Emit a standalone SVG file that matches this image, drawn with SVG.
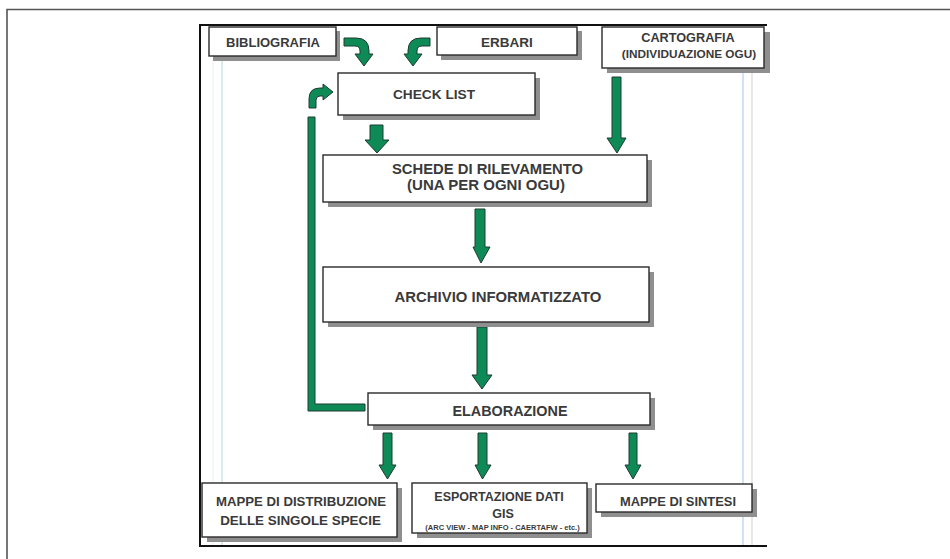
<svg xmlns="http://www.w3.org/2000/svg" width="950" height="559" viewBox="0 0 950 559">
<style>
.box{fill:#ffffff;stroke:#2a2a2a;stroke-width:1.4}
.sh{fill:#8f8f8f}
.t{font-family:"Liberation Sans",Arial,sans-serif;font-weight:bold;fill:#3a3a3a;text-anchor:middle}
.ar{fill:#0e8a57;stroke:#1c3d30;stroke-width:1;stroke-linejoin:miter}
</style>
<rect x="0" y="0" width="950" height="559" fill="#ffffff"/>
<g id="frame">
<path d="M7,559 V9.5 H950" fill="none" stroke="#555" stroke-width="1.6"/>
<path d="M767,25 H200 V546 H767" fill="none" stroke="#111" stroke-width="2"/>
<line x1="213" y1="60" x2="213" y2="545" stroke="#eeeeee" stroke-width="1"/>
<line x1="222" y1="60" x2="222" y2="545" stroke="#c3dcdc" stroke-width="1.2"/>
<line x1="743" y1="72" x2="743" y2="545" stroke="#b5cfee" stroke-width="1.2"/>
<line x1="752" y1="72" x2="752" y2="545" stroke="#d8d8d8" stroke-width="1.2"/>
</g>
<g id="connectors">
<path class="ar" d="M344,38 L356,38 Q369,38 369,51 L369,54 L373,54 L364,66 L355,54 L360,54 L360,51 Q360,46 355,46 L344,46 Z"/>
<path class="ar" d="M430,38 L421,38 Q408,38 408,51 L408,54 L404,54 L413,66 L422,54 L417,54 L417,51 Q417,46 422,46 L430,46 Z"/>
<path class="ar" d="M309,108 L309,99 Q309,88 320,88 L323,88 L323,84 L333,92 L323,100 L323,96 L320,96 Q316,96 316,100 L316,108 Z"/>
<path class="ar" d="M308,117 L315,117 L315,404 L365,404 L365,411 L308,411 Z"/>
<path class="ar" d="M370,125 L383,125 L383,140 L389,140 L377,153 L365,140 L370,140 Z"/>
<path class="ar" d="M612,77 L621,77 L621,138 L626,138 L617,153 L607,138 L612,138 Z"/>
<path class="ar" d="M475,209 L485,209 L485,247 L490,247 L481,263 L473,247 L475,247 Z"/>
<path class="ar" d="M477,327 L487,327 L487,375 L492,375 L482,389 L472,375 L477,375 Z"/>
<path class="ar" d="M383,433 L392,433 L392,465 L396,465 L387.5,479 L379,465 L383,465 Z"/>
<path class="ar" d="M478,433 L487,433 L487,465 L491,465 L482.5,479 L475,465 L478,465 Z"/>
<path class="ar" d="M629,433 L637,433 L637,465 L641,465 L633,479 L625,465 L629,465 Z"/>
</g>
<g id="bibliografia">
<rect class="sh" x="213" y="31" width="127" height="30"/>
<rect class="box" x="209" y="27" width="127" height="29"/>
<text class="t" x="273" y="46.5" font-size="13">BIBLIOGRAFIA</text>
</g>
<g id="erbari">
<rect class="sh" x="441" y="31" width="141" height="29"/>
<rect class="box" x="437" y="27" width="140" height="28"/>
<text class="t" x="507" y="46.5" font-size="13.5">ERBARI</text>
</g>
<g id="cartografia">
<rect class="sh" x="607" y="32" width="163" height="41"/>
<rect class="box" x="602" y="27" width="162" height="41"/>
<text class="t" x="688" y="41.5" font-size="12.7">CARTOGRAFIA</text>
<text class="t" x="689" y="58" font-size="11.8">(INDIVIDUAZIONE OGU)</text>
</g>
<g id="checklist">
<rect class="sh" x="343" y="78" width="197" height="42"/>
<rect class="box" x="338" y="73" width="197" height="42"/>
<text class="t" x="434" y="98.5" font-size="13.7">CHECK LIST</text>
</g>
<g id="schede">
<rect class="sh" x="328" y="160" width="324" height="47"/>
<rect class="box" x="323" y="155" width="324" height="47"/>
<text class="t" x="487.5" y="174" font-size="14.8">SCHEDE DI RILEVAMENTO</text>
<text class="t" x="486" y="189.5" font-size="15">(UNA PER OGNI OGU)</text>
</g>
<g id="archivio">
<rect class="sh" x="328" y="272" width="326" height="55"/>
<rect class="box" x="323" y="267" width="326" height="55"/>
<text class="t" x="498" y="301.5" font-size="14.9">ARCHIVIO INFORMATIZZATO</text>
</g>
<g id="elaborazione">
<rect class="sh" x="373" y="398" width="282" height="32"/>
<rect class="box" x="368" y="393" width="282" height="32"/>
<text class="t" x="510" y="416" font-size="14.4">ELABORAZIONE</text>
</g>
<g id="mappe-distribuzione">
<rect class="sh" x="207" y="488" width="195" height="54"/>
<rect class="box" x="202" y="483" width="195" height="54"/>
<text class="t" x="301" y="505.5" font-size="13.2">MAPPE DI DISTRIBUZIONE</text>
<text class="t" x="300.5" y="525" font-size="13.4">DELLE SINGOLE SPECIE</text>
</g>
<g id="esportazione">
<rect class="sh" x="417" y="488" width="175" height="50"/>
<rect class="box" x="412" y="483" width="175" height="50"/>
<text class="t" x="499" y="501" font-size="12.5">ESPORTAZIONE DATI</text>
<text class="t" x="503" y="518.3" font-size="12.5">GIS</text>
<text class="t" x="502.5" y="529.5" font-size="7.5">(ARC VIEW - MAP INFO - CAERTAFW - etc.)</text>
</g>
<g id="mappe-sintesi">
<rect class="sh" x="601" y="489" width="156" height="28"/>
<rect class="box" x="596" y="484" width="156" height="28"/>
<text class="t" x="678" y="505.5" font-size="12.9">MAPPE DI SINTESI</text>
</g>
</svg>
